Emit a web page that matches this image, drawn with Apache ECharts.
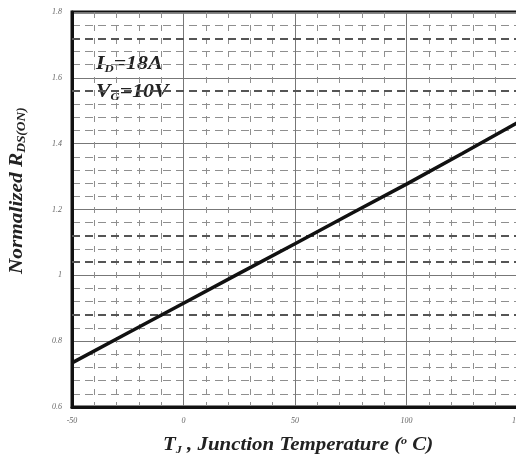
<!DOCTYPE html>
<html>
<head>
<meta charset="utf-8">
<script src="https://cdn.jsdelivr.net/npm/echarts@6/dist/echarts.min.js"></script>
<style>html,body{margin:0;padding:0;background:#fff;}#c{width:516px;height:468px;}</style>
</head>
<body>
<div id="c"></div>
<script>
// Data
var tempC = [-50, -25, 0, 25, 50, 75, 100, 125, 150];
var rdsNorm = [0.734, 0.825, 0.915, 1.006, 1.096, 1.187, 1.277, 1.370, 1.465];
var xTicks = [-50, 0, 50, 100, 150];
var yTicks = [0.6, 0.8, 1.0, 1.2, 1.4, 1.6, 1.8];
var boldDashY = [1.72, 1.56, 1.12, 1.04, 0.88];

var serif = '"Liberation Serif", "DejaVu Serif", serif';
var chart = echarts.init(document.getElementById('c'), null, {renderer: 'canvas'});

var option = {
  backgroundColor: '#ffffff',
  animation: false,
  grid: {left: 72, top: 12, right: -2, bottom: 61, show: true, borderColor: '#111', borderWidth: 3,
         containLabel: false, outerBoundsMode: 'none'},
  xAxis: {
    type: 'value', min: xTicks[0], max: xTicks[xTicks.length - 1], interval: 50,
    axisLine: {show: true, onZero: false, lineStyle: {color: '#111', width: 3}},
    axisTick: {show: false},
    axisLabel: {margin: 10, color: '#666', fontFamily: serif, fontStyle: 'italic', fontSize: 8},
    splitLine: {show: true, lineStyle: {color: '#777', width: 1}},
    minorTick: {show: false, splitNumber: 5},
    minorSplitLine: {show: true, lineStyle: {color: '#8f8f8f', width: 1, type: [6, 7]}}
  },
  yAxis: {
    type: 'value', min: yTicks[0], max: yTicks[yTicks.length - 1], interval: 0.2,
    axisLine: {show: true, onZero: false, lineStyle: {color: '#111', width: 3}},
    axisTick: {show: false},
    axisLabel: {margin: 10, color: '#666', fontFamily: serif, fontStyle: 'italic', fontSize: 8},
    splitLine: {show: true, lineStyle: {color: '#777', width: 1}},
    minorTick: {show: false, splitNumber: 5},
    minorSplitLine: {show: true, lineStyle: {color: '#8f8f8f', width: 1, type: [8, 5]}}
  },
  series: [{
    type: 'line',
    data: tempC.map(function (t, i) { return [t, rdsNorm[i]]; }),
    showSymbol: false,
    lineStyle: {color: '#111', width: 3.5},
    z: 5,
    markLine: {
      silent: true, symbol: 'none', label: {show: false},
      lineStyle: {color: '#555', width: 2, type: [8, 5]},
      data: boldDashY.map(function (v) { return {yAxis: v}; })
    }
  }],
  graphic: [
    {
      type: 'text', x: 163, y: 434, scaleX: 1.1,
      style: {
        text: '{m|T}{s|J}{m| , Junction Temperature (}{sup|o}{m| C)}',
        rich: {
          m: {fontFamily: serif, fontStyle: 'italic', fontWeight: 'bold', fontSize: 19, fill: '#222'},
          s: {fontFamily: serif, fontStyle: 'italic', fontWeight: 'bold', fontSize: 11, fill: '#222', padding: [11, 0, 0, 0]},
          sup: {fontFamily: serif, fontStyle: 'italic', fontWeight: 'bold', fontSize: 11, fill: '#222', padding: [0, 0, 8, 0]}
        }
      }
    },
    {
      type: 'text', x: 6, y: 274, rotation: Math.PI / 2, scaleX: 1.12,
      style: {
        text: '{m|Normalized R}{s|DS(ON)}',
        rich: {
          m: {fontFamily: serif, fontStyle: 'italic', fontWeight: 'bold', fontSize: 19, fill: '#222'},
          s: {fontFamily: serif, fontStyle: 'italic', fontWeight: 'bold', fontSize: 12, fill: '#222', padding: [10, 0, 0, 0]}
        }
      }
    },
    {
      type: 'text', x: 96, y: 54, scaleX: 1.15,
      style: {
        text: '{m|I}{s|D}{m|=18A}',
        rich: {
          m: {fontFamily: serif, fontStyle: 'italic', fontWeight: 'bold', fontSize: 19, fill: '#222'},
          s: {fontFamily: serif, fontStyle: 'italic', fontWeight: 'bold', fontSize: 11, fill: '#222', padding: [10, 0, 0, 0]}
        }
      }
    },
    {
      type: 'text', x: 96, y: 82, scaleX: 1.15,
      style: {
        text: '{m|V}{s|G}{m|=10V}',
        rich: {
          m: {fontFamily: serif, fontStyle: 'italic', fontWeight: 'bold', fontSize: 19, fill: '#222'},
          s: {fontFamily: serif, fontStyle: 'italic', fontWeight: 'bold', fontSize: 11, fill: '#222', padding: [10, 0, 0, 0]}
        }
      }
    }
  ]
};
chart.setOption(option);
</script>
</body>
</html>
